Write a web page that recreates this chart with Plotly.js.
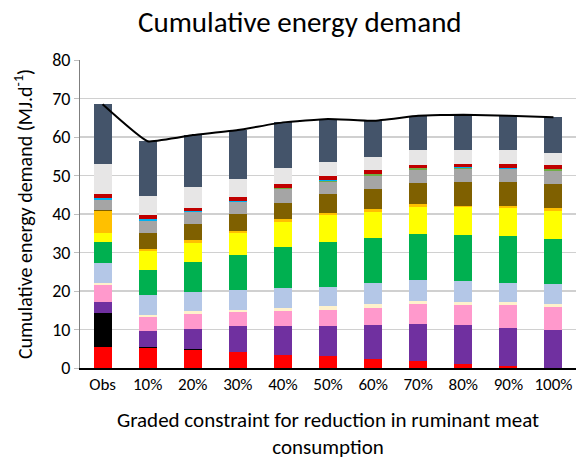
<!DOCTYPE html>
<html>
<head>
<meta charset="utf-8">
<script src="https://cdn.plot.ly/plotly-3.0.1.min.js"></script>
<style>html,body{margin:0;padding:0;background:#fff;}#chart{width:581px;height:460px;}</style>
</head>
<body>
<div id="chart"></div>
<script>
const categories = ["Obs","10%","20%","30%","40%","50%","60%","70%","80%","90%","100%"];

// stacked segments, bottom to top
const sRed      = [5.4, 5.2, 4.7, 4.2, 3.5, 3.0, 2.3, 1.9, 1.1, 0.6, 0.0];
const sBlack    = [9.0, 0.2, 0.3, 0.0, 0.0, 0.0, 0.0, 0.0, 0.0, 0.0, 0.0];
const sPurple   = [2.7, 4.1, 5.2, 6.6, 7.4, 8.0, 8.9, 9.6, 10.1, 9.9, 10.0];
const sPink     = [4.5, 3.7, 3.9, 3.8, 4.0, 4.1, 4.5, 5.1, 5.2, 5.9, 5.8];
const sCream    = [0.5, 0.6, 0.7, 0.5, 0.8, 1.0, 0.9, 0.9, 0.8, 0.7, 0.8];
const sLBlue    = [5.3, 5.2, 5.0, 5.2, 5.0, 5.0, 5.5, 5.3, 5.5, 5.1, 5.2];
const sGreen    = [5.4, 6.4, 7.8, 9.0, 10.8, 11.7, 11.6, 11.9, 11.8, 12.0, 11.8];
const sYellow   = [2.3, 5.0, 4.9, 5.7, 6.3, 6.9, 6.9, 7.0, 7.2, 7.3, 7.3];
const sOrange   = [5.6, 0.6, 0.7, 0.7, 0.8, 0.6, 0.7, 0.9, 0.5, 0.5, 0.7];
const sBrown    = [0.3, 4.1, 4.1, 4.4, 4.3, 4.8, 5.2, 5.4, 6.2, 6.3, 6.2];
const sGray     = [2.7, 3.2, 3.1, 3.0, 3.5, 3.3, 3.4, 3.4, 3.3, 3.3, 3.4];
const sOlive    = [0.0, 0.0, 0.0, 0.0, 0.3, 0.2, 0.5, 0.5, 0.2, 0.0, 0.4];
const sCyan     = [0.4, 0.4, 0.4, 0.3, 0.0, 0.2, 0.0, 0.0, 0.3, 0.4, 0.0];
const sDarkRed  = [1.0, 1.0, 0.8, 1.0, 1.2, 1.2, 1.0, 0.9, 0.9, 1.0, 1.0];
const sLGray    = [7.9, 5.1, 5.4, 4.7, 4.1, 3.6, 3.4, 3.7, 3.6, 3.7, 3.3];
const sSlate    = [15.5, 14.1, 13.5, 12.7, 11.9, 11.1, 9.3, 9.0, 9.1, 9.0, 9.2];

const totals    = [68.5, 58.9, 60.5, 61.8, 63.8, 64.7, 64.2, 65.5, 65.8, 65.5, 65.1];

const series = [
  [sRed, "#FF0000"], [sBlack, "#000000"], [sPurple, "#7030A0"], [sPink, "#FF99CC"],
  [sCream, "#FFF2CC"], [sLBlue, "#B4C7E7"], [sGreen, "#00B050"], [sYellow, "#FFFF00"],
  [sOrange, "#FFC000"], [sBrown, "#7F6000"], [sGray, "#A5A5A5"], [sOlive, "#70AD47"],
  [sCyan, "#00B0F0"], [sDarkRed, "#C00000"], [sLGray, "#E7E6E6"], [sSlate, "#44546A"]
];

const traces = series.map(([vals, col]) => ({
  type: "bar", x: categories, y: vals,
  marker: {color: col, line: {width: 0}},
  hoverinfo: "y", showlegend: false
}));
traces.push({
  type: "scatter", mode: "lines", x: categories, y: totals,
  line: {color: "#000000", width: 2, shape: "spline", smoothing: 0.35},
  showlegend: false
});

const font = "Calibri, Carlito, 'Open Sans', sans-serif";
const layout = {
  width: 581, height: 460,
  paper_bgcolor: "#fff", plot_bgcolor: "#fff",
  barmode: "stack", bargap: 0.6,
  margin: {l: 80, r: 5, t: 60, b: 92},
  font: {family: font, color: "#000"},
  title: {text: "Cumulative energy demand", font: {size: 29, color: "#000", family: font},
          x: 0.516, xref: "container", xanchor: "center", y: 0.952, yref: "container", yanchor: "middle"},
  xaxis: {
    type: "category",
    tickfont: {size: 17, color: "#000"},
    showline: true, linecolor: "#000", linewidth: 2,
    ticks: "", showgrid: false,
    title: {text: "Graded constraint for reduction in ruminant meat<br>consumption",
            font: {size: 21, color: "#000"}, standoff: 22}
  },
  yaxis: {
    range: [0, 80], dtick: 10, tick0: 0,
    tickfont: {size: 18, color: "#000"},
    showgrid: true, gridcolor: "#D0D0D0", gridwidth: 1.5,
    showline: true, linecolor: "#7F7F7F", linewidth: 1,
    ticks: "outside", ticklen: 5, tickcolor: "#BFBFBF",
    zeroline: false,
    title: {text: "Cumulative energy demand (MJ.d<sup>-1</sup>)", font: {size: 20, color: "#000"}, standoff: 14}
  }
};

Plotly.newPlot("chart", traces, layout, {displayModeBar: false, staticPlot: true});
</script>
</body>
</html>
